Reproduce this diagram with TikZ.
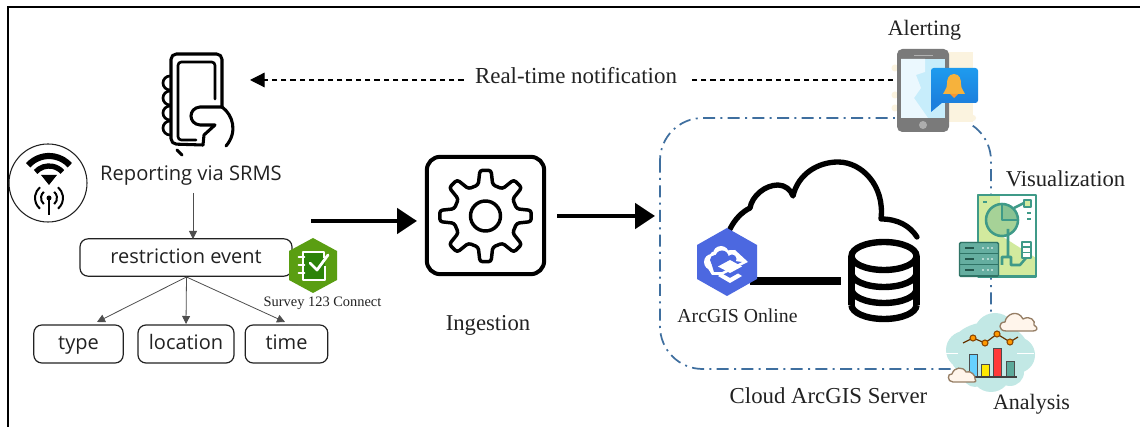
\documentclass[tikz,border=0pt]{standalone}
\usepackage{fontspec}
\setmainfont{Liberation Serif}
\newfontfamily\uifont{Open Sans}
\usetikzlibrary{arrows.meta,calc}
\definecolor{cloudline}{HTML}{3F6F9F}
\definecolor{darkline}{HTML}{222222}
\definecolor{teal1}{HTML}{3F9A88}
\definecolor{lime1}{HTML}{D2EA9E}
\definecolor{survey}{HTML}{5A9E12}
\definecolor{agol}{HTML}{4C68E0}
\definecolor{creamy}{HTML}{FBF3DF}
\definecolor{blob}{HTML}{C2E8E5}
\definecolor{bubble1}{HTML}{1E9BEE}
\definecolor{bubble2}{HTML}{1C7FDD}
\definecolor{bell}{HTML}{F6B23C}
\tikzset{
  x=0.75pt,y=-0.75pt,
  uibox/.style={draw=darkline,line width=0.9pt,rounded corners=6pt,fill=white,font=\uifont\fontsize{15}{18}\selectfont,inner sep=0pt,text=darkline,text height=11.5pt,text depth=3pt},
  uitext/.style={font=\uifont\fontsize{15.1}{18}\selectfont,text=darkline,inner sep=0pt},
  serif/.style={font=\fontsize{#1}{#1}\selectfont,text=darkline,inner sep=0pt},
  fan/.style={draw=darkline!80,line width=0.6pt,-{Triangle[length=6pt,width=6pt]}},
  bigarrow/.style={draw=black,line width=3pt,-{Triangle[length=15pt,width=19pt]}},
  iconline/.style={draw=black,line width=2.6pt,line cap=round,line join=round},
  hand/.style={draw=black,line width=2.3pt,line cap=round,line join=round},
  tealline/.style={draw=teal1,line width=1.9pt,line join=round}
}
\begin{document}
\begin{tikzpicture}
\useasboundingbox (0,0) rectangle (1140,427);
\fill[white] (0,0) rectangle (1140,427);
% frame
\draw[black,line width=2pt] (1140,7) -- (8,7) -- (8,427);

% cloud server boundary
\draw[cloudline,line width=1.3pt,rounded corners=32pt,dash pattern=on 9pt off 4pt on 1.5pt off 4pt]
  (660,118) rectangle (991,369);

% named ends
\coordinate (notifyend) at (893,80);
\coordinate (notifytip) at (250,80);
\coordinate (a1s) at (311,221);
\coordinate (a1e) at (417,221);
\coordinate (a2s) at (557,216);
\coordinate (a2e) at (655,216);

% notification
\draw[black,line width=0.9pt,dash pattern=on 4pt off 3pt,-{Triangle[length=11pt,width=11pt]}] (notifyend) -- (notifytip);
\node[fill=white,inner sep=0pt,minimum width=169pt,minimum height=30pt] (rtbg) at (577,76) {};
\node[serif=17.2] (rtn) at (576,76) {Real-time notification};

% reporting phone icon
\draw[hand,rounded corners=4pt] (222,107) -- (222,54) -- (171,54) -- (171,144) -- (203,145);
\draw[draw=black,line width=2pt,line cap=round,rounded corners=2.5pt] (215,99) -- (215,62) -- (178,62) -- (178,140) -- (196,140);
\draw[hand] (222,107) -- (200,107) .. controls (188,108) and (188,124) .. (200,125) -- (215,125) -- (204,135) -- (203,145);
\draw[hand] (222,107) .. controls (233,115) and (238,132) .. (226,146);
\foreach \yy in {83,98,113,128}{
  \draw[draw=black,line width=2pt] (170,\yy-7) arc[start angle=-90,end angle=-270,radius=7];
}
\draw[hand] (177,150) -- (182,155);

% wifi
\draw[draw=darkline,line width=0.8pt,fill=white] (48,183) circle[radius=39];
\draw[black,line width=4.6pt] (49,184) ++(222:28) arc[start angle=222,end angle=318,radius=28];
\draw[black,line width=4pt] (49,184) ++(222:18) arc[start angle=222,end angle=318,radius=18];
\fill[black] (49,185) -- (41,175) -- (57,175) -- cycle;
\draw[black,line width=1.5pt] (49,198) -- (49,215);
\fill[black] (49,198) circle[radius=2.5];
\foreach \rr in {8,14}{
  \draw[black,line width=1.5pt] (49,198) ++(130:\rr) arc[start angle=130,end angle=230,radius=\rr];
  \draw[black,line width=1.5pt] (49,198) ++(50:\rr) arc[start angle=50,end angle=-50,radius=\rr];
}

% reporting and tree
\node[uitext] (report) at (191,176) {Reporting via SRMS};
\node[uibox,minimum width=159pt,minimum height=28pt] (event) at (186,257.5) {restriction event};
\node[uibox,minimum width=67pt,minimum height=28.5pt] (type) at (78.5,344) {type};
\node[uibox,minimum width=72pt,minimum height=28.5pt] (location) at (186,344) {location};
\node[uibox,minimum width=62pt,minimum height=28.5pt] (time) at (286.5,344) {time};
\coordinate (repsouth) at (193,193);
\draw[fan] (repsouth) -- (193,239);
\coordinate (evs) at (186.5,277);
\coordinate (t1) at (97,322);
\coordinate (t2) at (186,324);
\coordinate (t3) at (285,322);
\draw[fan] (evs) -- (t1);
\draw[fan] (evs) -- (t2);
\draw[fan] (evs) -- (t3);

% survey icon
\fill[survey] (313,238) -- (337,251) -- (337,280) -- (313,293) -- (289,280) -- (289,251) -- cycle;
\fill[survey!70!green!70!black] (303,253) rectangle (325,280);
\draw[white,line width=1.2pt,line join=round] (324,258) -- (324,252) -- (303,252) -- (303,280) -- (325,280) -- (325,266);
\draw[white,line width=2.1pt,line cap=round,line join=round] (310,263) -- (317,270) -- (328,255);
\foreach \yy in {257,265,273}{\draw[white,line width=1.4pt,line cap=round] (298.5,\yy) -- (304.5,\yy);}
\node[serif=10.8] (survey) at (322.5,303) {Survey 123 Connect};

% gear box
\node[draw=black,line width=3pt,rounded corners=10pt,minimum size=88pt,inner sep=0pt] (ingestbox) at (485.5,215.5) {};
\draw[black,line width=2.6pt,line join=round,rounded corners=2pt,fill=white]
  (485.5,216)
  ++(-13:32) -- ($(485.5,216)+(-7:46)$) -- ($(485.5,216)+(7:46)$) -- ($(485.5,216)+(13:32)$)
  -- ($(485.5,216)+(32:32)$) -- ($(485.5,216)+(38:46)$) -- ($(485.5,216)+(52:46)$) -- ($(485.5,216)+(58:32)$)
  -- ($(485.5,216)+(77:32)$) -- ($(485.5,216)+(83:46)$) -- ($(485.5,216)+(97:46)$) -- ($(485.5,216)+(103:32)$)
  -- ($(485.5,216)+(122:32)$) -- ($(485.5,216)+(128:46)$) -- ($(485.5,216)+(142:46)$) -- ($(485.5,216)+(148:32)$)
  -- ($(485.5,216)+(167:32)$) -- ($(485.5,216)+(173:46)$) -- ($(485.5,216)+(187:46)$) -- ($(485.5,216)+(193:32)$)
  -- ($(485.5,216)+(212:32)$) -- ($(485.5,216)+(218:46)$) -- ($(485.5,216)+(232:46)$) -- ($(485.5,216)+(238:32)$)
  -- ($(485.5,216)+(257:32)$) -- ($(485.5,216)+(263:46)$) -- ($(485.5,216)+(277:46)$) -- ($(485.5,216)+(283:32)$)
  -- ($(485.5,216)+(302:32)$) -- ($(485.5,216)+(308:46)$) -- ($(485.5,216)+(322:46)$) -- ($(485.5,216)+(328:32)$)
  -- cycle;
\draw[black,line width=2.6pt] (485.5,216) circle[radius=15];
\node[serif=17] (ingestion) at (488,325) {Ingestion};

% main arrows
\draw[bigarrow] (a1s) -- (a1e);
\draw[bigarrow] (a2s) -- (a2e);

% big cloud
\draw[black,line width=4pt,line cap=round,line join=round]
  (730,229) .. controls (735,219) and (742,212) .. (750,208)
  .. controls (752,196) and (765,185) .. (778,185)
  .. controls (785,185) and (791,190) .. (793,196)
  .. controls (798,174) and (818,162) .. (838,162)
  .. controls (862,162) and (885,186) .. (881,219)
  .. controls (898,219) and (910,226) .. (917,237);
% link
\fill[black] (750,277) rectangle (841,285);
% database
\draw[black,line width=4.8pt] (884,256) circle[x radius=32.5,y radius=14];
\draw[black,line width=4.8pt] (851.5,256) -- (851.5,305);
\draw[black,line width=4.8pt] (916.5,256) -- (916.5,305);
\foreach \yy in {273,289,305}{
  \draw[black,line width=4.8pt] (851.5,\yy) arc[start angle=180,end angle=0,x radius=32.5,y radius=14];
}

% ArcGIS online icon
\fill[agol] (727,228) -- (757,245) -- (757,279) -- (727,296) -- (697,279) -- (697,245) -- cycle;
\fill[white] (712,262) circle[radius=8] (721,254) circle[radius=8] (731,256) circle[radius=6];
\fill[white] (704,262) -- (712,275) -- (722,275) -- (748,262) -- (735,250) -- (712,252) -- cycle;
\fill[agol] (715,260) circle[radius=5] (722,257) circle[radius=6.5] (732,259) circle[radius=4.5];
\fill[agol] (711,262) -- (714,272) -- (722,272) -- (742,262) -- (712,258) -- cycle;
\fill[white] (730,260) -- (742,266.5) -- (730,273) -- (718,266.5) -- cycle;
\fill[white] (722,273.5) -- (730,278) -- (738,273.5) -- (742,276) -- (730,283) -- (718,276) -- cycle;
\node[serif=14.8] (agoltext) at (737.5,316) {ArcGIS Online};
\node[serif=17.1] (cloudtext) at (828.5,396) {Cloud ArcGIS Server};

% alerting icon
\node[serif=16.5] (alerting) at (924.5,30) {Alerting};
\fill[white] (895,50) rectangle (982,125);
\fill[creamy] (948,52) rectangle (973,122);
\foreach \yy in {68,95,108}{\fill[creamy] (895,\yy) circle[radius=3.5];}
\fill[creamy] (973,118) circle[radius=3];
\fill[black!52,rounded corners=4pt] (897,49) rectangle (949,132);
\fill[cyan!22!white] (901,59) rectangle (945,118);
\fill[cyan!8!white] (901,59) -- (925,59) -- (925,72) -- (916,75) -- (921,88) -- (914,98) -- (928,118) -- (901,118) -- cycle;
\fill[black!30] (914,55) rectangle (933,56.5);
\fill[black!32] (923,125) circle[radius=4];
\shade[top color=bubble1,bottom color=bubble2,rounded corners=2pt] (931,68) rectangle (978,103);
\fill[bubble2] (931,100) -- (931,112) -- (943,102) -- cycle;
\fill[bell] (954,74) .. controls (948,74) and (947,80) .. (947,84) .. controls (947,89) and (944,91) .. (943,94) -- (965,94) .. controls (964,91) and (961,89) .. (961,84) .. controls (961,80) and (960,74) .. (954,74) -- cycle;
\fill[bell!85!red] (950,94) -- (958,94) -- (954,98) -- cycle;

% visualization icon
\node[serif=17] (visualization) at (1065.5,179) {Visualization};
\fill[white] (977,194) rectangle (1037,277);
\fill[lime1] (977,194) rectangle (1000,277);
\fill[lime1] (1000,277) -- (1000,235) -- (1036,258) -- (1036,277) -- cycle;
\draw[tealline] (978,195) rectangle (1036,276.5);
\fill[lime1!70!teal1] (1002,220) circle[radius=16];
\fill[lime1!50!teal1] (1002,220) -- (1002,204) arc[start angle=270,end angle=360,radius=16] -- cycle;
\draw[tealline] (1002,220) circle[radius=16];
\draw[tealline] (1002,204) -- (1002,220) -- (1018,220);
\draw[tealline] (1014,208) -- (1024,203);
\fill[lime1] (1024,200) rectangle (1031,207);
\draw[tealline] (1024,200) rectangle (1031,207);
\draw[teal1,line width=1.3pt] (1027,213) -- (1031,213) (1027,219) -- (1031,219) (983,202) -- (987,202);
\draw[tealline] (1008,229) -- (1008,258) (1002,265) -- (1002,257) -- (1011,257) -- (1011,265) -- (1020,265) -- (1026,258);
\draw[tealline,fill=white] (1022,242) rectangle (1031,258);
\draw[teal1,line width=1pt] (1022,247) -- (1031,247) (1022,252.5) -- (1031,252.5);
\fill[teal1!80!white,rounded corners=1pt] (959,242) rectangle (999,277);
\draw[teal1!75!black,line width=1.1pt,rounded corners=1pt] (959.5,242.5) rectangle (998.5,276.5);
\foreach \yy in {248,259,270}{
  \draw[teal1!75!black,line width=0.9pt] (959,\yy+5.5) -- (999,\yy+5.5);
  \draw[teal1!55!black,line width=1.2pt] (965,\yy) -- (974,\yy);
  \draw[white!60!teal1,line width=1.1pt,dash pattern=on 1.5pt off 2pt] (982,\yy) -- (994,\yy);
}

% analysis icon
\fill[blob] (989,352) ellipse[x radius=40,y radius=30]
  (995,334) circle[radius=21] (965,350) circle[radius=19] (1017,355) circle[radius=18]
  (991,372) circle[radius=20] (975,375) circle[radius=12] (1010,372) circle[radius=14];
\draw[white,line width=0.6pt] (945,353) -- (958,353) (1017,353) -- (1034,353);
\draw[black!60!orange,line width=0.9pt] (963,343) -- (973,338) -- (985,343) -- (997,334) -- (1010,342) -- (1018,337);
\foreach \cx/\cy in {973/338,985/343,997/334,1010/342}{
  \draw[black!45!orange,line width=0.8pt,fill=orange!80!yellow] (\cx,\cy) circle[radius=3];
}
\draw[black!70,line width=0.7pt,fill=blue!30!cyan!60] (969,354) rectangle (977,377);
\draw[black!70,line width=0.7pt,fill=yellow!90!orange] (981,364) rectangle (989,377);
\draw[black!70,line width=0.7pt,fill=red!70!pink] (993,348) rectangle (1001,377);
\draw[black!70,line width=0.7pt,fill=teal1!85!white] (1006,361) rectangle (1014,377);
\draw[black!75,line width=0.9pt] (968,377) -- (1017,377);
\draw[black!45!brown!70,line width=1pt,fill=orange!8!white,line join=round]
  (1006,331) .. controls (998,331) and (998,322) .. (1005,322)
  .. controls (1006,314) and (1018,309) .. (1023,319)
  .. controls (1030,315) and (1036,321) .. (1034,325)
  .. controls (1039,328) and (1037,331) .. (1033,331) -- cycle;
\draw[black!45!brown!70,line width=1pt,fill=orange!8!white,line join=round]
  (953,382) .. controls (947,382) and (947,373) .. (952,374)
  .. controls (954,367) and (963,366) .. (966,372)
  .. controls (971,370) and (976,376) .. (975,379)
  .. controls (977,382) and (975,382) .. (972,382) -- cycle;
\node[serif=16.5] (analysis) at (1031.5,404) {Analysis};
\end{tikzpicture}
\end{document}
